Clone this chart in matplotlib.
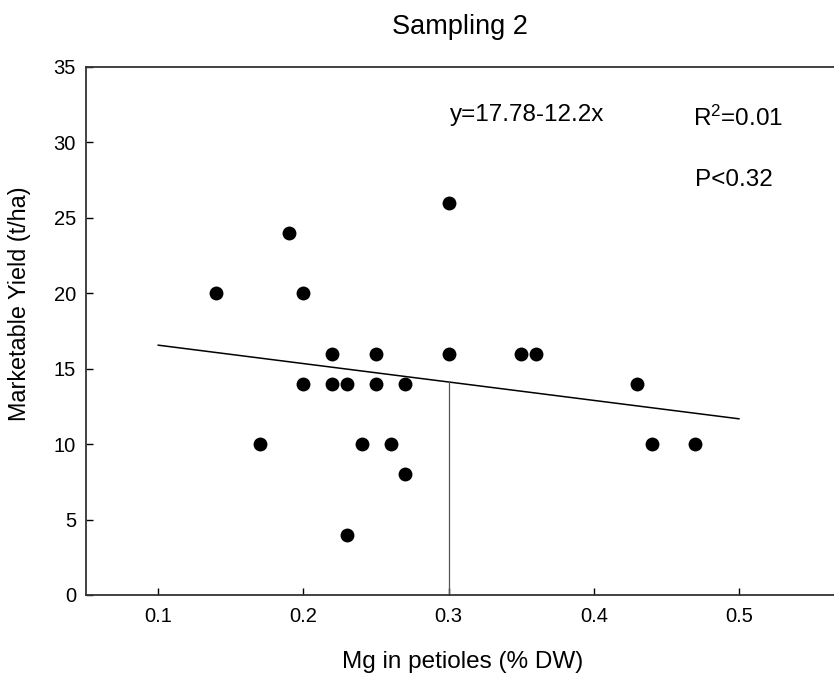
import matplotlib
matplotlib.use("Agg")
import matplotlib.pyplot as plt
import numpy as np

plt.rcParams['font.family'] = ['Liberation Sans', 'DejaVu Sans']
plt.rcParams['mathtext.fontset'] = 'custom'
plt.rcParams['mathtext.rm'] = 'Liberation Sans'
plt.rcParams['mathtext.it'] = 'Liberation Sans'
plt.rcParams['mathtext.bf'] = 'Liberation Sans'

# Data
mg = [0.14, 0.17, 0.19, 0.20, 0.20, 0.22, 0.22, 0.23, 0.23, 0.24, 0.25, 0.25,
      0.26, 0.27, 0.27, 0.30, 0.30, 0.35, 0.36, 0.43, 0.44, 0.47]
yield_ = [20, 10, 24, 20, 14, 16, 14, 14, 4, 10, 16, 14,
          10, 14, 8, 26, 16, 16, 16, 14, 10, 10]
intercept = 17.78
slope = -12.2
fit_x = [0.1, 0.5]
ref_x = 0.3
x_ticks = [0.1, 0.2, 0.3, 0.4, 0.5]
y_ticks = [0, 5, 10, 15, 20, 25, 30, 35]

fig = plt.figure(figsize=(8.34, 6.79), dpi=100)
ax = fig.add_axes([85.7/834, 1 - 595/679, 1 - 85.7/834, (595 - 67)/679])

ax.scatter(mg, yield_, s=100, color='black', zorder=3, linewidths=0)
fx = np.array(fit_x)
ax.plot(fx, intercept + slope * fx, color='black', lw=1.1, zorder=2)
ax.plot([ref_x, ref_x], [0, intercept + slope * ref_x], color='#555555', lw=0.9, zorder=2)

ax.set_xlim(0.05, 0.5655)
ax.set_ylim(0, 35)
ax.set_xticks(x_ticks)
ax.set_xticklabels([f"{t:.1f}" for t in x_ticks])
ax.set_yticks(y_ticks)
ax.tick_params(direction='in', length=5, width=1, labelsize=14.5, colors='black')
ax.tick_params(axis='y', pad=7)
ax.tick_params(axis='x', pad=9)
for side in ['left', 'bottom', 'top']:
    ax.spines[side].set_linewidth(1.3)
    ax.spines[side].set_color('#333333')
ax.spines['right'].set_visible(False)

ax.text(0.3007, 31.8, "y=17.78-12.2x", fontsize=17.5, ha='left', va='center')
ax.text(0.4687, 31.6, r"R$^2$=0.01", fontsize=17.5, ha='left', va='center')
ax.text(0.47, 27.5, "P<0.32", fontsize=17.5, ha='left', va='center')

fig.text(460/834, 1 - 27/679, "Sampling 2", fontsize=19.5, ha='center', va='center')
fig.text(463/834, 1 - 662/679, "Mg in petioles (% DW)", fontsize=17.5, ha='center', va='center')
fig.text(20/834, 1 - 304/679, "Marketable Yield (t/ha)", fontsize=16.8, ha='center', va='center',
         rotation=90)

fig.savefig("out.png", dpi=100)
